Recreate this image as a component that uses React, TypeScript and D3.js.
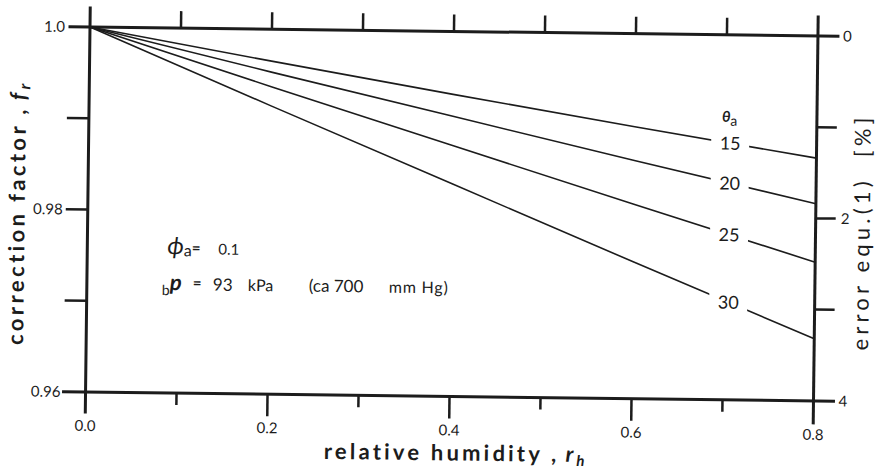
import React from 'react';
import * as d3 from 'd3';

// relative humidity r_h (x) and correction factor f_r for each air temperature
const humidity = [0, 0.2, 0.4, 0.6, 0.8];
const temperatures = [15, 20, 25, 30];
const factor15 = [1.0, 0.9965, 0.9931, 0.9898, 0.9866];
const factor20 = [1.0, 0.9953, 0.9907, 0.9861, 0.9816];
const factor25 = [1.0, 0.9937, 0.9875, 0.9813, 0.9752];
const factor30 = [1.0, 0.9916, 0.9833, 0.975, 0.9668];
const series = [factor15, factor20, factor25, factor30];

const xTicks = [0.1, 0.2, 0.3, 0.4, 0.5, 0.6, 0.7];
const xLabels = [0, 0.2, 0.4, 0.6, 0.8];
const yTicks = [0.99, 0.98, 0.97];
const yLabels = [1.0, 0.98, 0.96];
const errTicks = [1, 2, 3];
const errLabels = [0, 2, 4];
const labelAt = 0.705;

const W = 728;
const H = 365;
const ink = '#1c1c1c';
const font = "Lato, 'DejaVu Sans', sans-serif";

export default function App() {
  const x = d3.scaleLinear().domain([0, 0.8]).range([0, W]);
  const y = d3.scaleLinear().domain([1.0, 0.96]).range([0, H]);
  const err = d3.scaleLinear().domain([0, 4]).range([0, H]);

  const line = d3.line<number>()
    .x((d, i) => x(humidity[i]))
    .y(d => y(d));

  const axis = { stroke: ink, strokeWidth: 3, strokeLinecap: 'square' as const };
  const tick = { stroke: ink, strokeWidth: 2.5 };

  return (
    <svg width={884} height={476} style={{ position: 'absolute', left: 0, top: 0, background: '#fff' }}
         fontFamily={font}>
      <g transform="translate(90,27) rotate(0.7)">
        {/* frame */}
        <line x1={0} x2={0} y1={-19} y2={H + 20} {...axis} />
        <line x1={-20} x2={W + 20} y1={0} y2={0} {...axis} />
        <line x1={W} x2={W} y1={-19} y2={H + 22} {...axis} />
        <line x1={-22} x2={W + 20} y1={H} y2={H} {...axis} />

        {xTicks.map(t => (
          <g key={'xt' + t}>
            <line x1={x(t)} x2={x(t)} y1={0} y2={-17} {...tick} />
            <line x1={x(t)} x2={x(t)} y1={H} y2={H + (Math.round(t * 10) % 2 === 0 ? 22 : 12)} {...tick} />
          </g>
        ))}
        {yTicks.map(t => (
          <line key={'yt' + t} x1={-22} x2={0} y1={y(t)} y2={y(t)} {...tick} />
        ))}
        {errTicks.map(t => (
          <line key={'et' + t} x1={W} x2={W + 20} y1={err(t)} y2={err(t)} {...tick} />
        ))}

        {/* tick labels */}
        {yLabels.map(t => (
          <text key={'yl' + t} x={-25} y={y(t)} dy="0.35em" textAnchor="end" fontSize={15}
                fill={ink}>{t === 1 ? '1.0' : String(t)}</text>
        ))}
        {xLabels.map(t => (
          <text key={'xl' + t} x={x(t)} y={H + 39} textAnchor="middle" fontSize={15}
                fill={ink}>{t.toFixed(1)}</text>
        ))}
        {errLabels.map(t => (
          <text key={'el' + t} x={W + 25} y={err(t)} dy="0.35em" textAnchor="start" fontSize={15}
                fill={ink}>{t}</text>
        ))}

        {/* curves */}
        {series.map((s, i) => (
          <path key={'c' + i} d={line(s) || ''} fill="none" stroke={ink} strokeWidth={1.6} />
        ))}
        {series.map((s, i) => {
          const cy = y(d3.scaleLinear().domain(humidity).range(s)(labelAt));
          const cx = x(labelAt);
          return (
            <g key={'l' + i}>
              <rect x={cx - 19} y={cy - 11} width={38} height={22} fill="#fff" />
              <text x={cx} y={cy} dy="0.36em" textAnchor="middle" fontSize={18} fill={ink}>
                {temperatures[i]}
              </text>
            </g>
          );
        })}
        <text x={633} y={87} fill={ink}>
          <tspan fontSize={15} fontWeight="bold" fontStyle="italic">θ</tspan>
          <tspan fontSize={14} dy={4}>a</tspan>
        </text>

        {/* annotations */}
        <text y={226} fill={ink}>
          <tspan x={80} fontSize={24} fontStyle="italic">ϕ</tspan>
          <tspan fontSize={16} dy={2}>a</tspan>
          <tspan fontSize={15} dy={-3} fontWeight="bold">=</tspan>
          <tspan x={131} dy={1} fontSize={15}>0.1</tspan>
        </text>
        <text y={262} fill={ink}>
          <tspan x={75} fontSize={14} dy={5}>b</tspan>
          <tspan fontSize={22} dy={-5} fontWeight="bold" fontStyle="italic">p</tspan>
          <tspan x={106} fontSize={15} dy={-2} fontWeight="bold">=</tspan>
          <tspan x={126} fontSize={17} dy={2}>93</tspan>
          <tspan x={161} fontSize={16}>kPa</tspan>
          <tspan x={222} fontSize={17}>(ca 700</tspan>
          <tspan x={302} fontSize={16} letterSpacing={0.8}>mm Hg)</tspan>
        </text>

        {/* axis titles */}
        <text transform={`translate(-63,${H / 2 + 4}) rotate(-90)`} textAnchor="middle" fontSize={22}
              fontWeight="bold" letterSpacing={3.4} fill={ink}>
          correction factor ,
          <tspan fontStyle="italic" dx={6}>f</tspan>
          <tspan fontSize={16} fontStyle="italic" dy={4}>r</tspan>
        </text>
        <text x={371} y={429} textAnchor="middle" fontSize={22} fontWeight="bold" letterSpacing={3.2}
              fill={ink}>
          relative humidity ,
          <tspan fontStyle="italic" dx={6}>r</tspan>
          <tspan fontSize={15} fontStyle="italic" dy={4}>h</tspan>
        </text>
        <text transform={`translate(782,${H / 2 + 13}) rotate(-90)`} textAnchor="middle" fontSize={22}
              letterSpacing={4.2} fill={ink}>
          error equ.(1)
          <tspan dx={20}>[%]</tspan>
        </text>
      </g>
    </svg>
  );
}
